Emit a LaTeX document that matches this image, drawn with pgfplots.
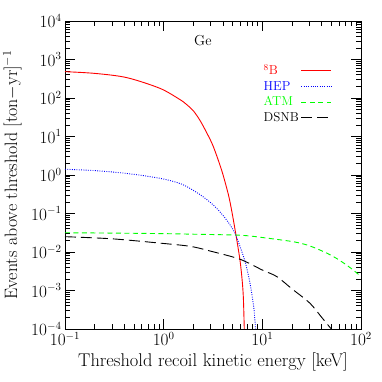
\documentclass[border=0pt]{standalone}
\usepackage{pgfplots}
\pgfplotsset{compat=1.18}
\usepackage{xcolor}

% neutrino floor, Ge target: events above threshold
\pgfplotstableread{
x y
0.1 483
0.2 436
0.4217 339
0.918 178
1.462 91
1.71 67.6
1.995 46.8
2.333 26.3
2.754 12.0
3.184 5.50
3.873 1.32
4.519 0.316
4.887 0.120
5.358 0.0316
5.929 0.0063
6.252 0.00178
6.427 0.00063
6.561 0.0001
}\boronB
\pgfplotstableread{
x y
0.1 1.41
0.2 1.30
0.42 1.10
0.918 0.82
1.52 0.58
2.333 0.31
3.184 0.166
4.0 0.089
4.70 0.051
5.27 0.031
6.0 0.013
6.67 0.0057
7.3 0.0022
7.8 0.00085
8.2 0.00035
8.55 0.0001
}\hep
\pgfplotstableread{
x y
0.1 0.0316
0.3 0.031
1 0.030
2 0.029
5.07 0.0277
7 0.0265
10 0.0238
20.6 0.0185
30 0.0145
44.8 0.0094
60 0.0062
80 0.0037
100 0.0023
}\atm
\pgfplotstableread{
x y
0.1 0.025
0.3 0.022
0.92 0.017
1.87 0.014
3 0.0105
5.93 0.0065
10 0.0034
14 0.0023
20 0.0011
30.3 0.00047
40 0.0002
50 0.0001
}\dsnb

\begin{document}
\begin{tikzpicture}
\useasboundingbox (-65bp,-53bp) rectangle (317bp,329bp);
\begin{axis}[
  at={(0,0)}, anchor=south west,
  scale only axis,
  width=296bp, height=308bp,
  xmode=log, ymode=log,
  xmin=0.1, xmax=100, ymin=1e-4, ymax=1e4,
  xtick={0.1,1,10,100},
  ytick={1e-4,1e-3,1e-2,1e-1,1,10,100,1000,10000},
  minor xtick={0.2,0.3,0.4,0.5,0.6,0.7,0.8,0.9,2,3,4,5,6,7,8,9,20,30,40,50,60,70,80,90},
  minor ytick={2e-4,3e-4,4e-4,5e-4,6e-4,7e-4,8e-4,9e-4,
               2e-3,3e-3,4e-3,5e-3,6e-3,7e-3,8e-3,9e-3,
               2e-2,3e-2,4e-2,5e-2,6e-2,7e-2,8e-2,9e-2,
               0.2,0.3,0.4,0.5,0.6,0.7,0.8,0.9,2,3,4,5,6,7,8,9,
               20,30,40,50,60,70,80,90,200,300,400,500,600,700,800,900,
               2000,3000,4000,5000,6000,7000,8000,9000},
  tick align=inside,
  major tick length=10bp, minor tick length=5bp,
  tick style={black, line width=0.7bp},
  axis line style={line width=0.9bp},
  tick label style={font=\fontsize{16}{19}\selectfont},
  xlabel={Threshold recoil kinetic energy [keV]},
  ylabel={Events above threshold [ton$-$yr]$^{-1}$},
  xlabel style={font=\fontsize{18.5}{21}\selectfont,
    at={(axis description cs:0.5,-0.107)}, anchor=center},
  ylabel style={font=\fontsize{18}{21}\selectfont,
    at={(axis description cs:-0.178,0.5)}, anchor=center},
  legend style={draw=none, fill=none, inner sep=0pt,
    at={(axis description cs:0.902,0.866)}, anchor=north east,
    font=\fontsize{13}{15.5}\selectfont, row sep=1bp,
    /tikz/every even column/.append style={column sep=6bp}},
  legend cell align=left,
  legend plot pos=right,
  legend image code/.code={\draw[#1] (0bp,0bp) -- (30bp,0bp);},
]
\addplot[red, line width=0.9bp, smooth] table {\boronB};
\addplot[blue, line width=0.9bp, dash pattern=on 0.9bp off 1.4bp, smooth] table {\hep};
\addplot[green, line width=0.9bp, dash pattern=on 5bp off 3.5bp, smooth] table {\atm};
\addplot[black, line width=0.9bp, dash pattern=on 11bp off 5bp, smooth] table {\dsnb};
\legend{\textcolor{red}{\textsuperscript{8}B},\textcolor{blue}{HEP},\textcolor{green}{ATM},DSNB}
\node[font=\fontsize{14.5}{17}\selectfont] at (axis description cs:0.466,0.938) {Ge};
\end{axis}
\end{tikzpicture}
\end{document}
